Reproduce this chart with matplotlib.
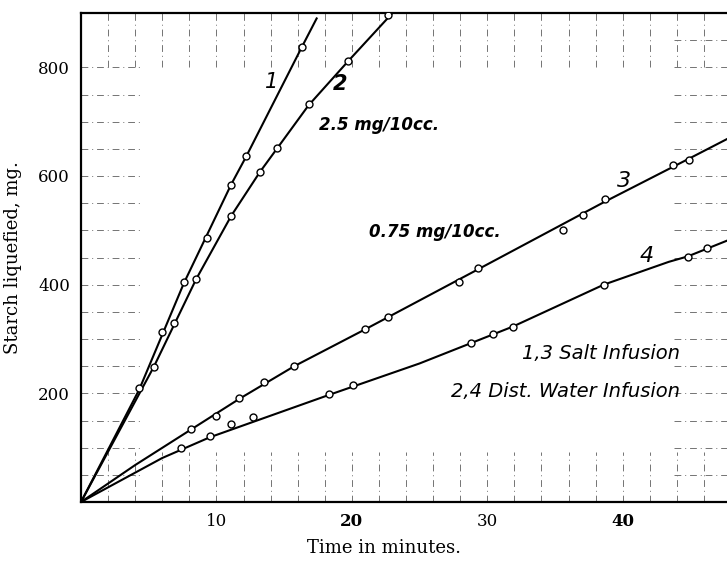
import numpy as np
import matplotlib
matplotlib.use('Agg')
import matplotlib.pyplot as plt

# measured points (time in min, starch liquefied in mg)
curve1_t = [4.3, 6.0, 7.6, 9.3, 11.1, 12.2, 16.3]
curve1_mg = [210, 313, 405, 486, 584, 636, 837]
curve1_line_t = [0, 4.3, 7.6, 11.1, 12.2, 16.3, 17.4]
curve1_line_mg = [0, 207, 403, 585, 636, 837, 890]

curve2_t = [5.4, 6.9, 8.5, 11.1, 13.2, 14.5, 16.8, 19.75, 22.7]
curve2_mg = [249, 329, 410, 526, 607, 652, 732, 812, 896]
curve2_line_t = [0, 5.4, 8.5, 11.1, 13.2, 16.8, 19.75, 23.0]
curve2_line_mg = [0, 250, 410, 527, 607, 730, 812, 900]

curve3_t = [8.1, 9.95, 11.7, 13.5, 15.75, 21.0, 22.7, 27.9, 29.3, 35.6, 37.1, 38.7, 43.7, 44.9]
curve3_mg = [134, 159, 191, 221, 251, 318, 340, 404, 430, 501, 529, 557, 620, 629]
curve3_line_t = [0, 4, 8.1, 11.7, 15.75, 21.0, 29.3, 38.7, 44.9, 47.7]
curve3_line_mg = [0, 68, 133, 190, 250, 318, 428, 553, 632, 668]

curve4_t = [7.4, 9.5, 11.06, 12.7, 18.3, 20.1, 28.8, 30.4, 31.9, 38.6, 44.8, 46.2]
curve4_mg = [100, 121, 143, 157, 198, 215, 293, 310, 322, 400, 451, 468]
curve4_line_t = [0, 6, 9.5, 18.3, 25, 31.9, 38.6, 43.4, 44.8, 47.7]
curve4_line_mg = [0, 81, 119, 197, 255, 323, 400, 442, 452, 481]

x_ticks = [10, 20, 30, 40]
y_ticks = [200, 400, 600, 800]

fig = plt.figure(figsize=(7.27, 5.61), dpi=100)
ax = fig.add_axes([81 / 727, 1 - 502 / 561, (727 - 81) / 727, (502 - 13) / 561])
ax.set_xlim(0, 47.7)
ax.set_ylim(0, 900)

# remnants of the graph paper grid
grid_kw = dict(color='0.45', linewidth=0.7, linestyle=(0, (7, 4, 1, 4)), zorder=1)
for t in np.arange(2, 48, 2):
    ax.plot([t, t], [0, 92], **grid_kw)
    ax.plot([t, t], [800, 900], **grid_kw)
for m in np.arange(50, 851, 50):
    if m <= 800:
        ax.plot([0, 4.5], [m, m], **grid_kw)
    ax.plot([43.8, 47.7], [m, m], **grid_kw)

line_kw = dict(color='black', linewidth=1.5, zorder=2)
mark_kw = dict(marker='o', linestyle='none', markersize=5, markerfacecolor='white',
               markeredgecolor='black', markeredgewidth=1.0, zorder=3)
for lt, lm, pt, pm in [(curve1_line_t, curve1_line_mg, curve1_t, curve1_mg),
                       (curve2_line_t, curve2_line_mg, curve2_t, curve2_mg),
                       (curve3_line_t, curve3_line_mg, curve3_t, curve3_mg),
                       (curve4_line_t, curve4_line_mg, curve4_t, curve4_mg)]:
    ax.plot(lt, lm, **line_kw)
    ax.plot(pt, pm, **mark_kw)

ax.spines['right'].set_visible(False)
for side in ['left', 'bottom', 'top']:
    ax.spines[side].set_linewidth(1.6)

serif = 'DejaVu Serif'
ax.set_xticks(x_ticks)
ax.set_xticklabels([str(v) for v in x_ticks], family=serif, fontsize=12)
for lab, v in zip(ax.get_xticklabels(), x_ticks):
    if v in (20, 40):
        lab.set_fontweight('bold')
ax.set_yticks(y_ticks)
ax.set_yticklabels([str(v) for v in y_ticks], family=serif, fontsize=12)
ax.tick_params(length=0, pad=8)

ax.set_xlabel('Time in minutes.', family=serif, fontsize=13, va='center')
ax.xaxis.set_label_coords(0.469, -0.094)
ax.set_ylabel('Starch liquefied, mg.', family=serif, fontsize=13)
ax.yaxis.set_label_coords(-0.092, 0.5)

hand = dict(family='DejaVu Sans', style='italic', color='black')
ax.text(14.07, 773, '1', fontsize=15, ha='center', va='center', **hand)
ax.text(19.1, 770, '2', fontsize=15, fontweight='bold', ha='center', va='center', **hand)
ax.text(40.1, 591, '3', fontsize=16, ha='center', va='center', **hand)
ax.text(41.8, 453, '4', fontsize=16, ha='center', va='center', **hand)
ax.text(17.6, 694, '2.5 mg/10cc.', fontsize=12, fontweight='bold', ha='left', va='center', **hand)
ax.text(21.3, 497, '0.75 mg/10cc.', fontsize=12, fontweight='bold', ha='left', va='center', **hand)
ax.text(44.2, 274, '1,3 Salt Infusion', fontsize=14, ha='right', va='center', **hand)
ax.text(44.2, 204, '2,4 Dist. Water Infusion', fontsize=14, ha='right', va='center', **hand)

fig.savefig('out.png', dpi=100)
